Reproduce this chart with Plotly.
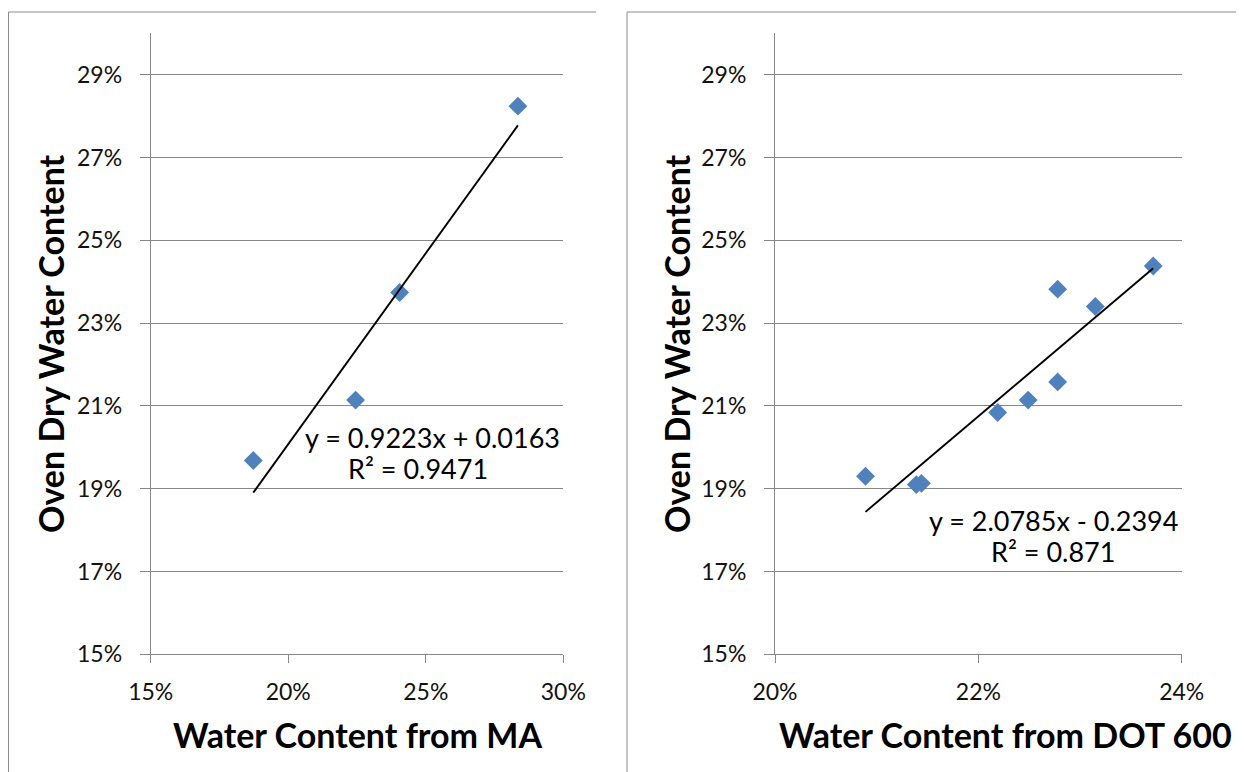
import plotly.graph_objects as go

# ---- data ----
ma_x = [0.1873, 0.2245, 0.2405, 0.2835]
ma_y = [0.1968, 0.2114, 0.2374, 0.2824]
ma_slope, ma_intercept = 0.9223, 0.0163
ma_eq = "y = 0.9223x + 0.0163"
ma_r2 = "R² = 0.9471"

dot_x = [0.2039, 0.2089, 0.2094, 0.2169, 0.2199, 0.2228, 0.2228, 0.2265, 0.2322]
dot_y = [0.1930, 0.1910, 0.1913, 0.2084, 0.2114, 0.2158, 0.2382, 0.2340, 0.2438]
dot_slope, dot_intercept = 2.0785, -0.2394
dot_eq = "y = 2.0785x - 0.2394"
dot_r2 = "R² = 0.871"

y_ticks = [0.15, 0.17, 0.19, 0.21, 0.23, 0.25, 0.27, 0.29]
ma_xticks = [0.15, 0.20, 0.25, 0.30]
ma_xtext = ["15%", "20%", "25%", "30%"]
dot_xticks = [0.195, 0.215, 0.235]
dot_xtext = ["20%", "22%", "24%"]

# page has an 8px body margin: figure is placed at (8, 8)
OFF = 8
W, H = 1244 - OFF, 772 - OFF
FONT = "Lato"
GRID = "#878787"
MARKER = "#4F81BD"

def px(v):
    return (v - OFF) / W

def py(v):
    return 1 - (v - OFF) / H

fig = go.Figure()

fig.add_trace(go.Scatter(x=ma_x, y=ma_y, mode="markers", xaxis="x", yaxis="y",
                         marker=dict(symbol="diamond", size=14.5, color=MARKER), showlegend=False))
fig.add_trace(go.Scatter(x=dot_x, y=dot_y, mode="markers", xaxis="x2", yaxis="y2",
                         marker=dict(symbol="diamond", size=14.5, color=MARKER), showlegend=False))

ma_lx = [min(ma_x), max(ma_x)]
ma_ly = [ma_slope * v + ma_intercept for v in ma_lx]
dot_lx = [min(dot_x), max(dot_x)]
dot_ly = [dot_slope * v + dot_intercept for v in dot_lx]
fig.add_trace(go.Scatter(x=ma_lx, y=ma_ly, mode="lines", xaxis="x", yaxis="y",
                         line=dict(color="black", width=1.9), showlegend=False))
fig.add_trace(go.Scatter(x=dot_lx, y=dot_ly, mode="lines", xaxis="x2", yaxis="y2",
                         line=dict(color="black", width=1.9), showlegend=False))

ydom = [py(654.3), py(33.3)]
tickfont = dict(family=FONT, size=23, color="#111111")

common_y = dict(range=[0.15, 0.30], tickvals=y_ticks, tickformat=".0%", showgrid=True,
                gridcolor=GRID, gridwidth=1, showline=True, linecolor=GRID, linewidth=1,
                ticks="outside", ticklen=10, tickcolor=GRID, tickfont=tickfont,
                ticklabelstandoff=13,
                zeroline=False, domain=ydom, automargin=False, fixedrange=True)
common_x = dict(showgrid=False, showline=True, linecolor=GRID, linewidth=1,
                ticks="outside", ticklen=8, tickcolor=GRID, tickfont=tickfont, zeroline=False,
                ticklabelstandoff=9,
                automargin=False, fixedrange=True)

fig.update_layout(
    width=W, height=H, autosize=False,
    margin=dict(l=0, r=0, t=0, b=0, pad=0, autoexpand=False),
    paper_bgcolor="white", plot_bgcolor="white",
    xaxis=dict(common_x, domain=[px(150.7), px(563.3)], range=[0.15, 0.30],
               tickvals=ma_xticks, ticktext=ma_xtext, anchor="y"),
    yaxis=dict(common_y, anchor="x"),
    xaxis2=dict(common_x, domain=[px(775), px(1181.7)], range=[0.195, 0.235],
                tickvals=dot_xticks, ticktext=dot_xtext, anchor="y2"),
    yaxis2=dict(common_y, anchor="x2"),
)

titlefont = dict(family=FONT, size=34, color="black")
eqfont = dict(family=FONT, size=27, color="black")
ann = []
ann.append(dict(text="<b>Water Content from MA</b>", x=px(357), y=py(734), font=titlefont))
ann.append(dict(text="<b>Water Content from DOT 600</b>", x=px(1005), y=py(734), font=titlefont))
ann.append(dict(text="<b>Oven Dry Water Content</b>", x=px(50), y=py(344), font=titlefont, textangle=-90))
ann.append(dict(text="<b>Oven Dry Water Content</b>", x=px(676), y=py(344), font=titlefont, textangle=-90))
ann.append(dict(text=ma_eq, x=px(432), y=py(437), font=eqfont))
ann.append(dict(text=ma_r2, x=px(418), y=py(468), font=eqfont))
ann.append(dict(text=dot_eq, x=px(1053), y=py(520), font=eqfont))
ann.append(dict(text=dot_r2, x=px(1053), y=py(551), font=eqfont))
for a in ann:
    a.update(xref="paper", yref="paper", showarrow=False, xanchor="center", yanchor="middle")
fig.update_layout(annotations=ann)

border = dict(color="#8c8c8c", width=1)
shapes = [
    dict(type="line", xref="paper", yref="paper", x0=px(8.5), x1=px(8.5), y0=py(12), y1=0, line=border),
    dict(type="line", xref="paper", yref="paper", x0=px(8.5), x1=px(596), y0=py(12), y1=py(12), line=border),
    dict(type="line", xref="paper", yref="paper", x0=px(627), x1=px(627), y0=py(12), y1=0, line=border),
    dict(type="line", xref="paper", yref="paper", x0=px(627), x1=1, y0=py(12), y1=py(12), line=border),
]
fig.update_layout(shapes=shapes)

fig.write_html("out.html", config={"displayModeBar": False})
